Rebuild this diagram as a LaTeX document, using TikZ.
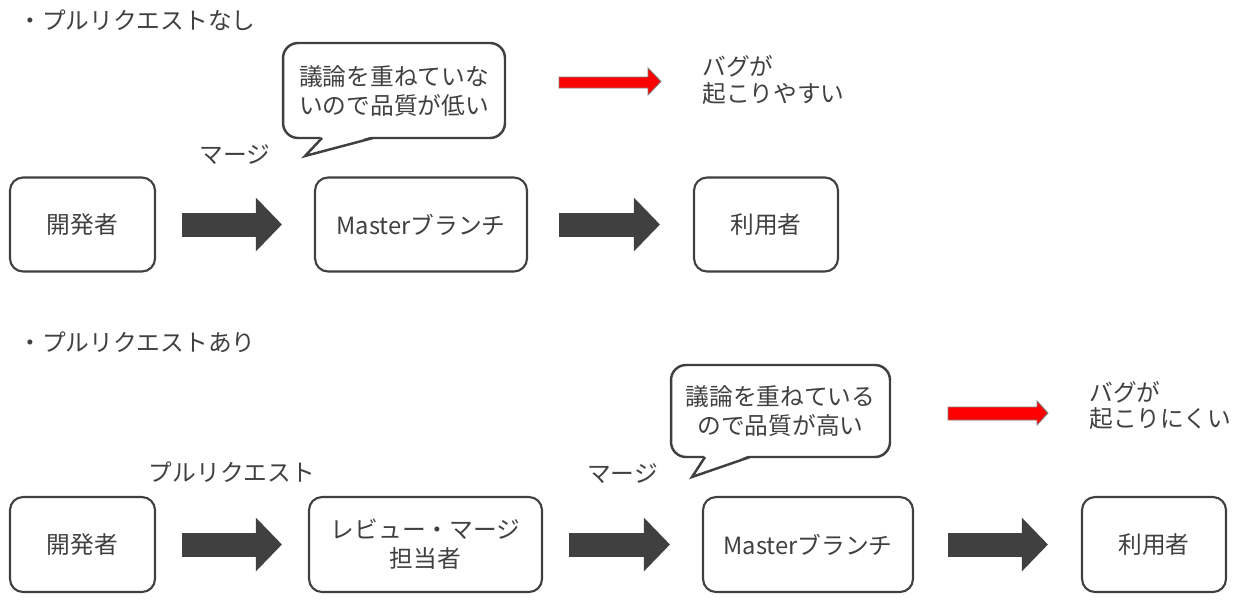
\documentclass[tikz,border=0pt]{standalone}
\usepackage{fontspec}
\setmainfont{Noto Sans CJK JP}
\usetikzlibrary{arrows.meta,calc}
\definecolor{ink}{HTML}{404040}

\begin{document}
\begin{tikzpicture}[x=0.02cm,y=-0.02cm,font=\fontsize{13.5pt}{16.5pt}\selectfont,text=ink,
  box/.style={draw=ink,line width=1.2pt,rounded corners=0.26cm,fill=white,align=center,inner sep=0pt,minimum height=1.88cm},
  bubble/.style={draw=ink,line width=1.4pt,rounded corners=0.3cm,fill=white,align=center,inner sep=0pt,outer sep=0pt},
  tail/.style={draw=ink,line width=1.4pt,line join=miter},
  flow/.style 2 args={color=ink,line width=0.48cm,shorten <=#1,shorten >=#2,-{Triangle[length=0.52cm,width=1.04cm]}},
  redarrow/.style={fill=red,draw=gray,line width=0.5pt},
  heading/.style={anchor=west,inner sep=0pt},
  note/.style={anchor=west,inner sep=0pt,align=left,font=\fontsize{13.5pt}{15pt}\selectfont}]
\useasboundingbox (0,0) rectangle (1240,606);

% without pull request
\node[heading] (head1) at (18,20) {・プルリクエストなし};
\node[box,minimum width=2.9cm] (dev1) at (82.5,224.5) {開発者};
\node[box,minimum width=4.24cm] (master1) at (421,224.5) {Masterブランチ};
\node[box,minimum width=2.88cm] (user1) at (766,224.5) {利用者};
\draw[flow={0.52cm}{0.64cm}] (dev1) -- node[yshift=1.4cm] (merge1) {マージ} (master1);
\draw[flow={0.62cm}{0.66cm}] (master1) -- (user1);

\node[bubble,minimum width=4.44cm,minimum height=1.9cm] (talk1) at (394,90.5) {議論を重ねていな\\いので品質が低い};
\coordinate (tip1) at (305,156);
\fill[white] ($(talk1.south west)+(39,-2)$) -- (tip1) -- ($(talk1.south west)+(90,-2)$) -- cycle;
\draw[tail] ($(talk1.south west)+(39,0)$) -- (tip1) -- ($(talk1.south west)+(90,0)$);

\filldraw[redarrow] (559,77) -- (648,77) -- (648,68) -- (661,81.5) -- (648,95) -- (648,88) -- (559,88) -- cycle;
\node[note] (bug1) at (702,80) {バグが\\起こりやすい};

% with pull request
\node[heading] (head2) at (18,342) {・プルリクエストあり};
\node[box,minimum width=2.9cm,minimum height=1.9cm] (dev2) at (82.5,544.5) {開発者};
\node[box,minimum width=4.66cm,minimum height=1.9cm] (review) at (425.5,544.5) {レビュー・マージ\\担当者};
\node[box,minimum width=4.2cm,minimum height=1.9cm] (master2) at (808,544.5) {Masterブランチ};
\node[box,minimum width=2.88cm,minimum height=1.9cm] (user2) at (1154,544.5) {利用者};
\draw[flow={0.52cm}{0.52cm}] (dev2) -- node[yshift=1.45cm] (pull) {プルリクエスト} (review);
\draw[flow={0.52cm}{0.64cm}] (review) -- node[yshift=1.41cm] (merge2) {マージ} (master2);
\draw[flow={0.68cm}{0.66cm}] (master2) -- (user2);

\node[bubble,minimum width=4.38cm,minimum height=1.84cm] (talk2) at (780.5,411) {議論を重ねている\\ので品質が高い};
\coordinate (tip2) at (692,477);
\fill[white] ($(talk2.south west)+(34,-2)$) -- (tip2) -- ($(talk2.south west)+(79,-2)$) -- cycle;
\draw[tail] ($(talk2.south west)+(34,0)$) -- (tip2) -- ($(talk2.south west)+(79,0)$);

\filldraw[redarrow] (948,407) -- (1037,407) -- (1037,401) -- (1048,413) -- (1037,425) -- (1037,420) -- (948,420) -- cycle;
\node[note] (bug2) at (1089,405.5) {バグが\\起こりにくい};
\end{tikzpicture}
\end{document}
